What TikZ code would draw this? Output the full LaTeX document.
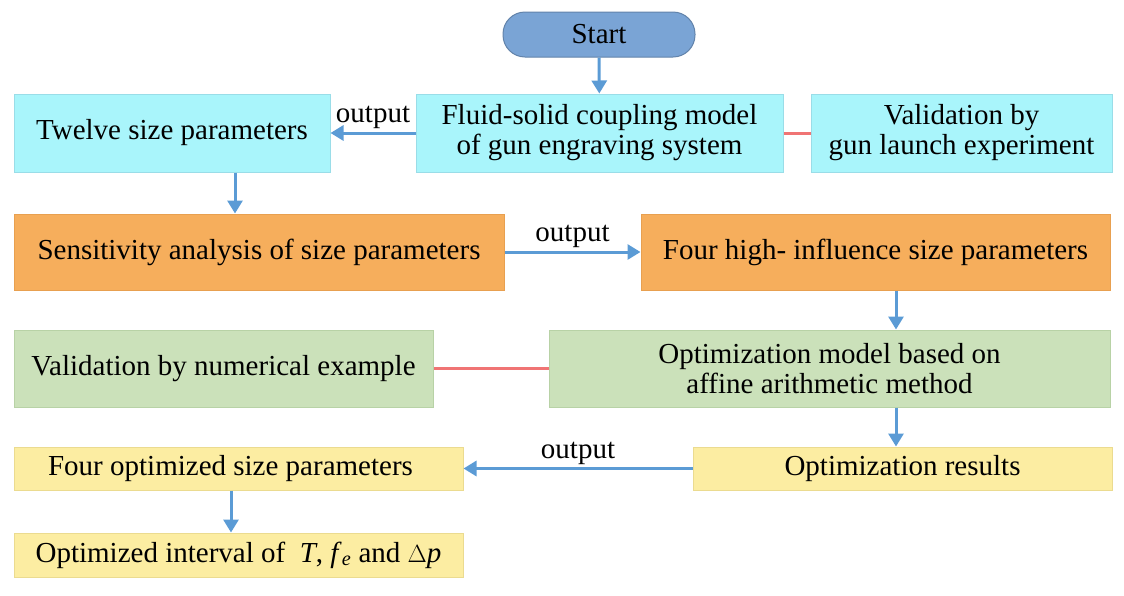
\documentclass[tikz,border=0pt]{standalone}
\usepackage{fontspec}
\setmainfont{Liberation Serif}
\usetikzlibrary{arrows.meta}
\definecolor{cy}{HTML}{A9F5FB}\definecolor{cyb}{HTML}{9ADDE8}
\definecolor{orf}{HTML}{F6AE5C}\definecolor{orb}{HTML}{E8A050}
\definecolor{grf}{HTML}{CBE1BA}\definecolor{grb}{HTML}{B8D2A6}
\definecolor{ylf}{HTML}{FCEDA2}\definecolor{ylb}{HTML}{EBDB90}
\definecolor{bl}{HTML}{5B9BD5}\definecolor{rd}{HTML}{F07474}
\definecolor{st}{HTML}{7AA4D5}
\begin{document}
\begin{tikzpicture}[x=1pt,y=-1pt,
 bx/.style={draw,line width=1pt,align=center,font=\fontsize{29}{30}\selectfont,inner sep=0},
 ar/.style={bl,line width=3pt,-{Triangle[length=13pt,width=15pt]}},
 ln/.style={rd,line width=3pt},
 lb/.style={text=black,font=\fontsize{29}{30}\selectfont}]
\path[use as bounding box] (0,0) rectangle (1124,595);
\node[bx,draw=st!80!black,fill=st,rounded corners=22pt,minimum width=192pt,minimum height=45pt] (s) at (599,34.5) {Start};
\node[bx,draw=cyb,fill=cy,minimum width=367pt,minimum height=78pt] (f) at (599.5,133) {Fluid-solid coupling model\\of gun engraving system};
\node[bx,draw=cyb,fill=cy,minimum width=301pt,minimum height=78pt] (v) at (961.5,133) {Validation by\\gun launch experiment};
\node[bx,draw=cyb,fill=cy,minimum width=316pt,minimum height=78pt] (t) at (172,133) {Twelve size parameters};
\node[bx,draw=orb,fill=orf,minimum width=490pt,minimum height=76pt] (sa) at (259,252) {Sensitivity analysis of size parameters};
\node[bx,draw=orb,fill=orf,minimum width=469pt,minimum height=76pt] (fh) at (875.5,252) {Four high- influence size parameters};
\node[bx,draw=grb,fill=grf,minimum width=419pt,minimum height=77pt] (vn) at (223.5,368.5) {Validation by numerical example};
\node[bx,draw=grb,fill=grf,minimum width=561pt,minimum height=77pt] (om) at (829.5,368.5) {Optimization model based on\\affine arithmetic method};
\node[bx,draw=ylb,fill=ylf,minimum width=419pt,minimum height=43pt] (or) at (902.5,468.5) {Optimization results};
\node[bx,draw=ylb,fill=ylf,minimum width=449pt,minimum height=43pt] (fo) at (238.5,468.5) {Four optimized size parameters\hspace{16pt}};
\node[bx,draw=ylb,fill=ylf,minimum width=449pt,minimum height=44pt] (oi) at (238.5,555) {Optimized interval of \ \textit{T}, \textit{f}\textsubscript{\textit{e}} and $\Delta$\textit{p}};
\draw[ar] (s) -- (f);
\draw[ar] (f) -- node[lb,above,pos=0.5,yshift=-1pt]{output} (t);
\draw[ln] (f) -- (v);
\draw[ar] (t.south -| 235,0) -- (sa.north -| 235,0);
\draw[ar] (sa) -- node[lb,above,yshift=-1pt]{output} (fh);
\draw[ar] (fh.south -| 896,0) -- (om.north -| 896,0);
\draw[ln] (om) -- (vn);
\draw[ar] (om.south -| 896,0) -- (or.north -| 896,0);
\draw[ar] (or) -- node[lb,above,yshift=-1pt]{output} (fo);
\draw[ar] (fo.south -| 231,0) -- (oi.north -| 231,0);
\end{tikzpicture}
\end{document}
